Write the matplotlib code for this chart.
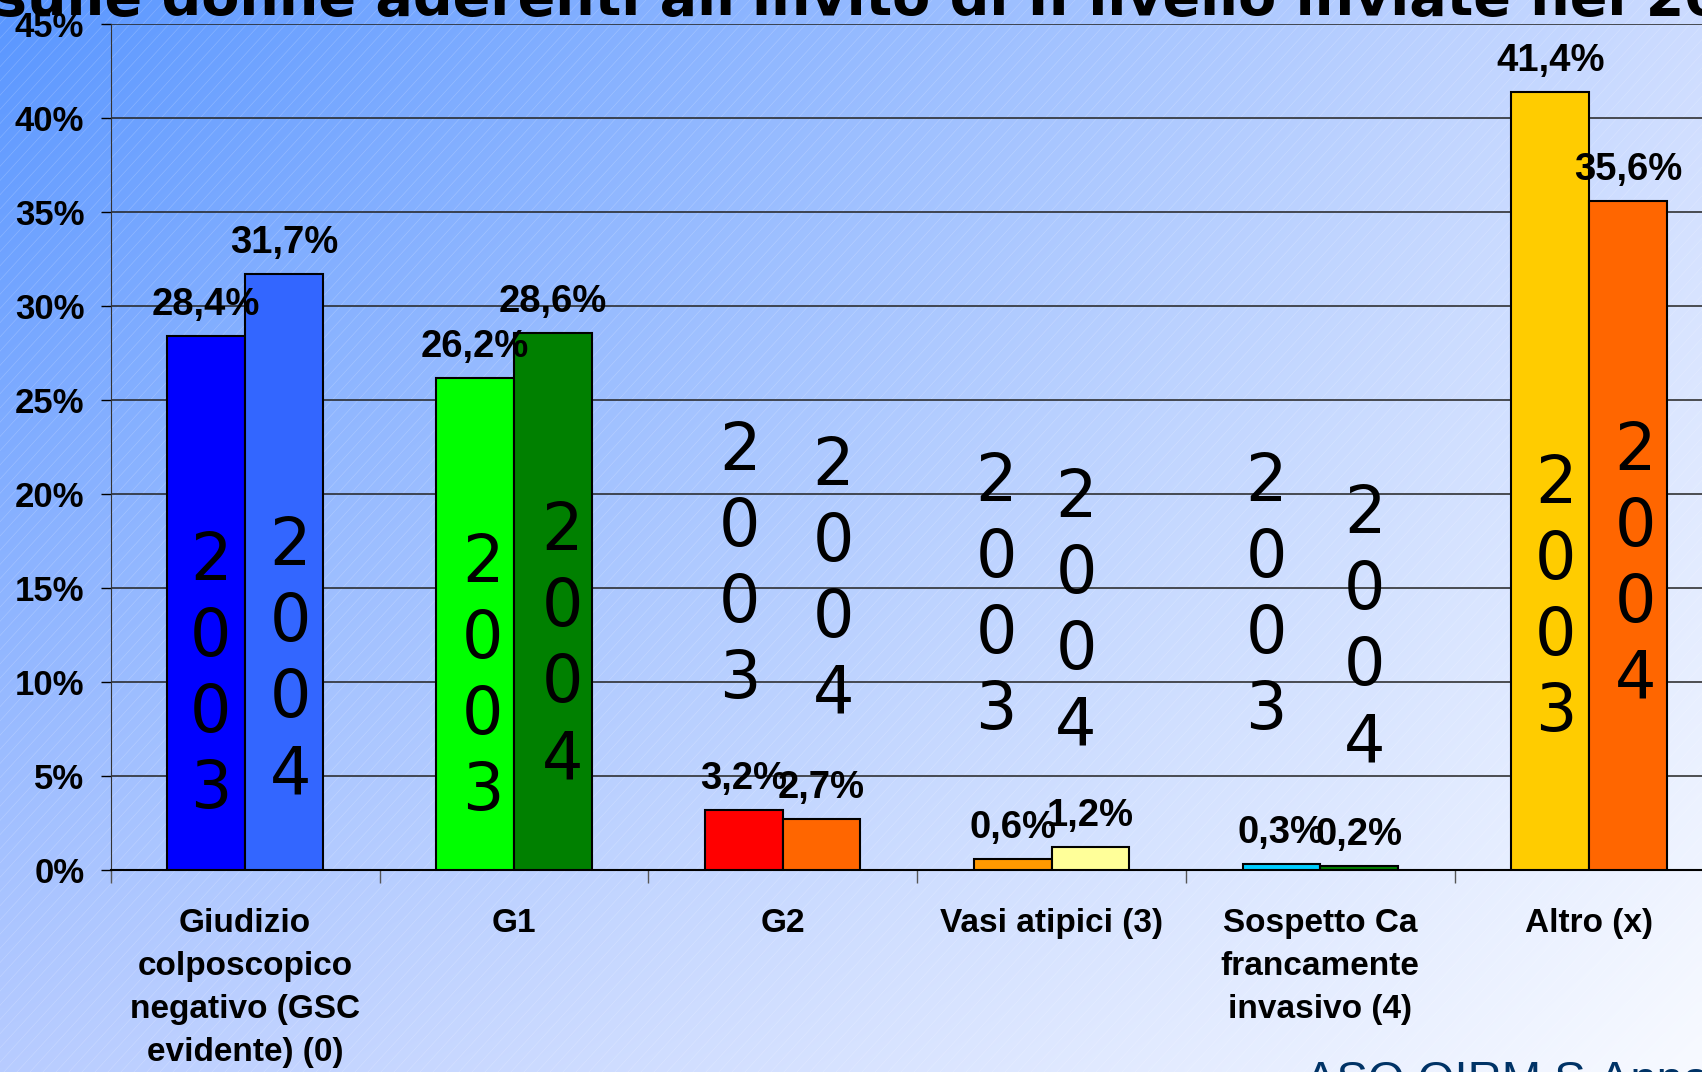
import numpy as np
import matplotlib
matplotlib.use('Agg')
import matplotlib.pyplot as plt

# ---- dati ----
categorie = ['Giudizio\ncolposcopico\nnegativo (GSC\nevidente) (0)', 'G1', 'G2',
             'Vasi atipici (3)', 'Sospetto Ca\nfrancamente\ninvasivo (4)', 'Altro (x)']
val_2003 = [28.4, 26.2, 3.2, 0.6, 0.3, 41.4]
val_2004 = [31.7, 28.6, 2.7, 1.2, 0.2, 35.6]
etich_2003 = ['28,4%', '26,2%', '3,2%', '0,6%', '0,3%', '41,4%']
etich_2004 = ['31,7%', '28,6%', '2,7%', '1,2%', '0,2%', '35,6%']
col_2003 = ['#0000FF', '#00FF00', '#FF0000', '#FF9900', '#00CCFF', '#FFCC00']
col_2004 = ['#3366FF', '#008000', '#FF6600', '#FFFF99', '#008000', '#FF6600']
y_ticks = [0, 5, 10, 15, 20, 25, 30, 35, 40, 45]

# scritte "2003"/"2004" verticali (caselle di testo della slide): centro in % e spostamento x
anno_y_2003 = [10.3, 10.2, 16.2, 14.5, 14.5, 14.4]
anno_y_2004 = [11.1, 11.9, 15.4, 13.7, 12.8, 16.2]
anno_dx_2003 = [0.016, 0.028, -0.016, -0.061, -0.057, 0.020]
anno_dx_2004 = [0.024, 0.036, 0.044, -0.053, 0.020, 0.028]

W, H = 1702, 1072
BAR_W = 0.289
FONT = 'Liberation Sans'

fig = plt.figure(figsize=(W / 100, H / 100), dpi=100)

# sfondo sfumato + righine diagonali
bg = fig.add_axes([0, 0, 1, 1])
bg.axis('off')
tl, tr = np.array([0.35, 0.59, 1.0]), np.array([0.80, 0.86, 1.0])
bl, br = np.array([0.72, 0.80, 1.0]), np.array([0.97, 0.98, 1.0])
u = np.linspace(0, 1, 200)[None, :, None]
v = np.linspace(0, 1, 130)[:, None, None]
grad = (1 - v) * ((1 - u) * tl + u * tr) + v * ((1 - u) * bl + u * br)
bg.imshow(grad, extent=[0, W, H, 0], aspect='auto', interpolation='bilinear')
for x0 in np.arange(-1400, W + 20, 13):
    bg.plot([x0, x0 + 1400 * 0.7], [H, 0], color='white', lw=0.5, alpha=0.2)
bg.set_xlim(0, W)
bg.set_ylim(H, 0)

# titolo (tagliato in alto)
fig.text(-6 / W, 1 - 15 / H, "sulle donne aderenti all'invito di II livello inviate nel 2004",
         fontsize=40, fontweight='bold', family='DejaVu Sans', va='baseline', ha='left')
# scritta in basso a destra (tagliata)
fig.text(1305 / W, -22 / H, 'ASO OIRM S.Anna', fontsize=34, color='#003366',
         family=FONT, va='baseline', ha='left')

ax = fig.add_axes([110.7 / W, (H - 870) / H, 6 * 268.8 / W, (870 - 24.3) / H])
ax.set_facecolor('none')
x = np.arange(len(categorie))

ax.bar(x - BAR_W / 2, val_2003, BAR_W, color=col_2003, edgecolor='black', lw=1.5, zorder=3)
ax.bar(x + BAR_W / 2, val_2004, BAR_W, color=col_2004, edgecolor='black', lw=1.5, zorder=3)

for i in range(len(categorie)):
    for xc, v_, lab in [(x[i] - BAR_W / 2, val_2003[i], etich_2003[i]),
                        (x[i] + BAR_W / 2, val_2004[i], etich_2004[i])]:
        ax.annotate(lab, (xc, v_), xytext=(0, 21), textcoords='offset pixels',
                    ha='center', va='baseline', fontsize=27.5, fontweight='bold',
                    family=FONT, zorder=5)
    for xc, yc, anno in [(x[i] - BAR_W / 2 + anno_dx_2003[i], anno_y_2003[i], '2003'),
                         (x[i] + BAR_W / 2 + anno_dx_2004[i], anno_y_2004[i], '2004')]:
        for k, ch in enumerate(anno):
            ax.annotate(ch, (xc, yc), xytext=(0, (1.5 - k) * 76), textcoords='offset pixels',
                        ha='center', va='center', fontsize=47, family='DejaVu Sans',
                        zorder=6)
    ax.annotate(categorie[i], (x[i], 0), xytext=(0, -38), textcoords='offset pixels',
                ha='center', va='top', fontsize=24, fontweight='bold', family=FONT,
                linespacing=1.5, multialignment='center')

ax.set_xlim(-0.5, len(categorie) - 0.5)
ax.set_ylim(0, 45)
ax.set_yticks(y_ticks)
ax.set_yticklabels([f'{t}%' for t in y_ticks], fontsize=25, fontweight='bold', family=FONT)
ax.set_xticks(np.arange(-0.5, len(categorie) + 0.5, 1))
ax.set_xticklabels([])
ax.tick_params(axis='y', length=7, width=1, pad=12, direction='out')
ax.tick_params(axis='x', length=9, width=1, color='#555555', direction='out')
ax.yaxis.grid(True, color='#222222', lw=1.1, zorder=1)
for s in ['top', 'right']:
    ax.spines[s].set_visible(False)
ax.spines['left'].set_color('#333333')
ax.spines['bottom'].set_color('black')
ax.spines['bottom'].set_linewidth(1.5)

fig.savefig('out.png', dpi=100)
